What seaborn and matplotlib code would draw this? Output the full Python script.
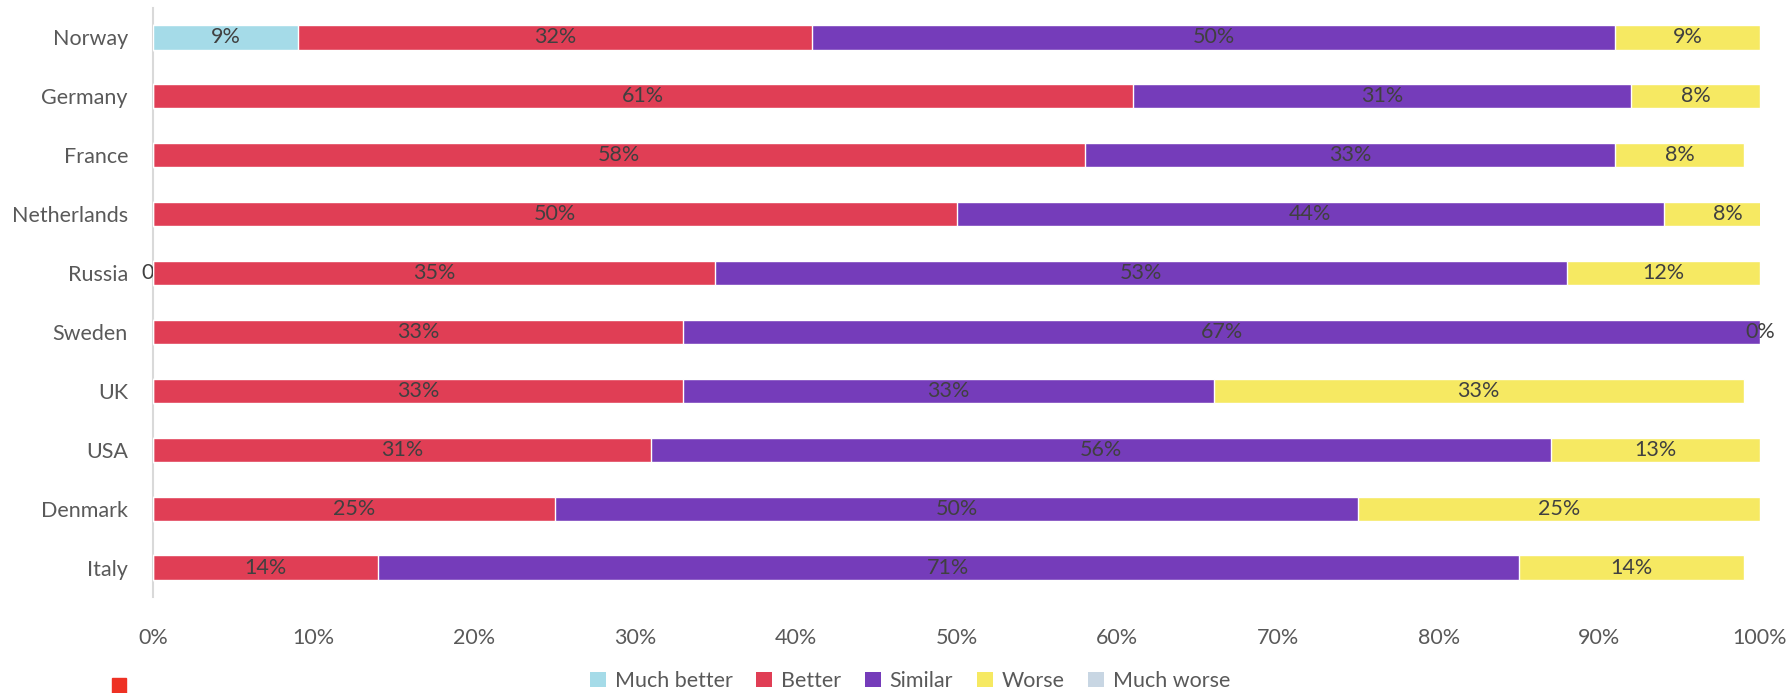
import matplotlib
matplotlib.use("Agg")
import matplotlib.pyplot as plt
from matplotlib.patches import Patch, Rectangle
from matplotlib.transforms import offset_copy
import numpy as np
import pandas as pd
import seaborn as sns

# Survey responses per country (percent); None = no answer recorded, 0 = explicit zero
countries = ["Norway", "Germany", "France", "Netherlands", "Russia",
             "Sweden", "UK", "USA", "Denmark", "Italy"]
much_better = [9, None, None, None, 0, None, None, None, None, None]
better = [32, 61, 58, 50, 35, 33, 33, 31, 25, 14]
similar = [50, 31, 33, 44, 53, 67, 33, 56, 50, 71]
worse = [9, 8, 8, 8, 12, 0, 33, 13, 25, 14]
much_worse = [None] * 10

levels = ["Much better", "Better", "Similar", "Worse", "Much worse"]
colors = ["#A5DBE8", "#E03E55", "#753CBA", "#F6E962", "#C8D6E3"]
xticks = list(range(0, 101, 10))

df = pd.DataFrame({
    "country": countries,
    "Much better": much_better,
    "Better": better,
    "Similar": similar,
    "Worse": worse,
    "Much worse": much_worse,
})
vals = df[levels].astype(float)
cum = vals.fillna(0).cumsum(axis=1)

sns.set_theme(style="white")
plt.rcParams["font.family"] = ["Lato", "DejaVu Sans"]

fig = plt.figure(figsize=(17.89, 6.93), dpi=100)
ax = fig.add_axes([153 / 1789, 1 - 597 / 693, (1760 - 153) / 1789, (597 - 8) / 693])

# Stacked bars: draw cumulative totals from the outermost level inward
for lvl, col in zip(reversed(levels), reversed(colors)):
    plot_df = pd.DataFrame({"country": countries, "value": cum[lvl]})
    sns.barplot(data=plot_df, x="value", y="country", order=countries,
                orient="h", color=col, saturation=1, width=0.41, ax=ax,
                zorder=2)

# Segment labels; a zero segment at the start sits partly under the next bar
label_color = "#404040"
for i, c in enumerate(countries):
    start = 0.0
    for lvl in levels:
        v = vals.loc[i, lvl]
        if pd.isna(v):
            continue
        if v == 0 and start == 0:
            tr = offset_copy(ax.transData, fig=fig, x=2.5, y=0, units="points")
            ax.text(start, i, f"{v:.0f}%", ha="center", va="center",
                    fontsize=15.5, color=label_color, zorder=1,
                    clip_on=False, transform=tr)
        else:
            ax.text(start + v / 2, i, f"{v:.0f}%", ha="center", va="center",
                    fontsize=15.5, color=label_color, zorder=5, clip_on=False)
        start += v

ax.set_xlim(0, 100)
ax.set_ylim(len(countries) - 0.5, -0.5)
ax.set_xticks(xticks)
ax.set_xticklabels([f"{t}%" for t in xticks])
ax.set_xlabel("")
ax.set_ylabel("")
ax.tick_params(axis="x", length=0, pad=22, labelsize=15.5, labelcolor="#595959")
ax.tick_params(axis="y", length=0, pad=18, labelsize=15.5, labelcolor="#595959")
for s in ["top", "right", "bottom"]:
    ax.spines[s].set_visible(False)
ax.spines["left"].set_color("#D9D9D9")
ax.spines["left"].set_linewidth(1.5)
ax.spines["left"].set_zorder(0)
ax.grid(False)

handles = [Patch(facecolor=c, edgecolor="none", label=l) for l, c in zip(levels, colors)]
fig.legend(handles=handles, loc="center", bbox_to_anchor=(910 / 1789, 1 - 681 / 693),
           ncol=5, frameon=False, fontsize=15.5, labelcolor="#595959",
           handlelength=0.75, handleheight=0.75, handletextpad=0.4, columnspacing=1.1)

# Small marker at the lower left corner
fig.patches.append(Rectangle((112 / 1789, 0), 14 / 1789, 15 / 693,
                             transform=fig.transFigure, color="#EE3124"))

fig.savefig("out.png", dpi=100)
